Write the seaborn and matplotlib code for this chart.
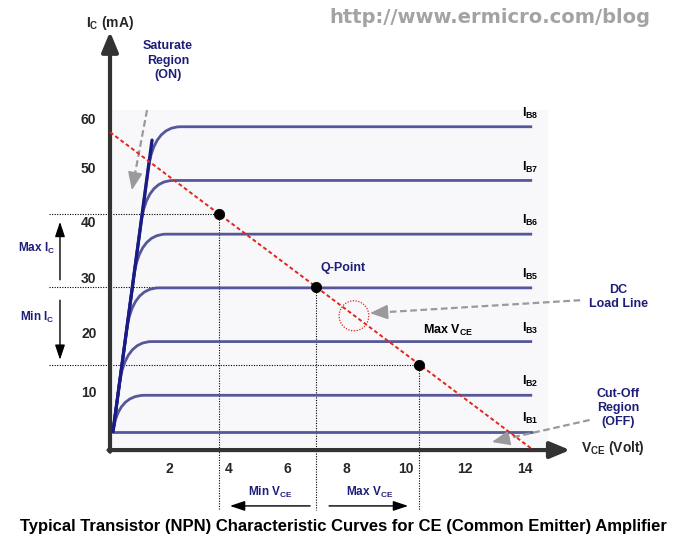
import matplotlib
matplotlib.use("Agg")
import matplotlib.pyplot as plt
import matplotlib.patches as mpatches
from matplotlib.path import Path
import seaborn as sns

sns.set_theme(style="white")
plt.rcParams["font.family"] = ["Liberation Sans", "DejaVu Sans"]
plt.rcParams["mathtext.fontset"] = "custom"
plt.rcParams["mathtext.rm"] = "Liberation Sans"
plt.rcParams["mathtext.default"] = "regular"

# ---- data ----
ib_labels = ["I$_{B8}$", "I$_{B7}$", "I$_{B6}$", "I$_{B5}$", "I$_{B3}$", "I$_{B2}$", "I$_{B1}$"]
ib_levels = [60, 50, 40, 30, 20, 10, 3.2]      # mA, flat part of each curve
vce_end = 14.26                                # where the curves stop
sat_v = [0.1, 1.42]                            # saturation line
sat_i = [3.2, 57.5]
load_v = [0, 14.25]                            # DC load line
load_i = [59, 0]
op_v = [3.68, 6.96, 10.44]                     # operating points on the load line
op_i = [43.7, 30.2, 15.7]
x_ticks = [2, 4, 6, 8, 10, 12, 14]
y_ticks = [10, 20, 30, 40, 50, 60]

NAVY = "#1e1e78"
CURVE = "#55579a"
GREY = "#9a9a9a"

fig = plt.figure(figsize=(6.87, 5.44), dpi=100)
ax = fig.add_axes([0, 0, 1, 1])
ax.set_xlim(-3.716, 19.49)
ax.set_ylim(-17.69, 83.6)
ax.axis("off")

# faint panel behind the curves
ax.add_patch(mpatches.Rectangle((0, 0), 14.8, 63.1, facecolor="#f8f8fa",
                                edgecolor="none", zorder=0))

# characteristic curves: up the saturation line, rounded knee, then flat
slope = (sat_i[1] - sat_i[0]) / (sat_v[1] - sat_v[0])
for lvl in ib_levels:
    if lvl <= sat_i[0] + 0.01:
        sns.lineplot(x=[sat_v[0], vce_end], y=[lvl, lvl], color=CURVE, lw=2.0, ax=ax)
        continue
    y0 = max(lvl - 8, sat_i[0])
    v0 = sat_v[0] + (y0 - sat_i[0]) / slope
    vl = sat_v[0] + (lvl - sat_i[0]) / slope
    verts = [(sat_v[0], sat_i[0]), (v0, y0), (vl, lvl), (vl + 0.9, lvl), (vce_end, lvl)]
    codes = [Path.MOVETO, Path.LINETO, Path.CURVE3, Path.CURVE3, Path.LINETO]
    ax.add_patch(mpatches.PathPatch(Path(verts, codes), facecolor="none",
                                    edgecolor=CURVE, lw=2.0, zorder=2))

sns.lineplot(x=sat_v, y=sat_i, color="#1b1b88", lw=2.4, ax=ax, zorder=3)

for lab, lvl in zip(ib_labels, ib_levels):
    ax.text(13.9, lvl + 2.5, lab, fontsize=9, fontweight="bold", color="black",
            ha="left", va="center")

# axes with arrow heads
axis_kw = dict(arrowstyle="-|>,head_length=1.2,head_width=0.5", lw=3,
               color="#333333", shrinkA=0, shrinkB=0, mutation_scale=10)
ax.annotate("", xy=(0, 77.7), xytext=(0, -0.5), arrowprops=axis_kw, zorder=4)
ax.annotate("", xy=(15.54, -0.2), xytext=(-0.05, -0.2), arrowprops=axis_kw, zorder=4)

ax.text(0, 79.4, "I$_{C}$ (mA)", fontsize=10, fontweight="bold", ha="center", va="center")
ax.text(15.9, 0.2, "V$_{CE}$ (Volt)", fontsize=10, fontweight="bold", ha="left", va="center")

for t in x_ticks:
    ax.text(t, -3.7, str(t), fontsize=10, fontweight="bold", ha="center", va="center")
for t, off in zip(y_ticks, [0.4, 1.4, 1.7, 2.0, 2.1, 1.2]):
    ax.text(-0.72, t + off, str(t), fontsize=10, fontweight="bold", ha="center", va="center")

# guide lines from the operating points
dot = (0, (1, 1.3))
for v, i in zip(op_v, op_i):
    ax.plot([-2.06, v], [i, i], color="black", lw=0.8, linestyle=dot, zorder=1)
    ax.plot([v, v], [i, -11.4], color="black", lw=0.8, linestyle=dot, zorder=1)

# load line and points
sns.lineplot(x=load_v, y=load_i, color="#e3241b", lw=1.4, linestyle=(0, (2, 1.4)),
             ax=ax, zorder=5)
sns.scatterplot(x=op_v, y=op_i, color="black", s=55, edgecolor="black", ax=ax, zorder=6)

ax.add_patch(mpatches.Ellipse((8.24, 24.8), 1.0, 5.6, facecolor="none",
                              edgecolor="#e3241b", lw=0.9, linestyle=(0, (1, 1.2)), zorder=5))


def grey_arrow(start, end, frac):
    back = (end[0] + frac * (start[0] - end[0]), end[1] + frac * (start[1] - end[1]))
    ax.plot([start[0], back[0]], [start[1], back[1]], color=GREY, lw=1.6,
            linestyle=(0, (3, 1.6)), zorder=4)
    ax.annotate("", xy=end, xytext=back, zorder=4,
                arrowprops=dict(arrowstyle="-|>,head_length=1.1,head_width=0.45",
                                color=GREY, lw=1.2, shrinkA=0, shrinkB=0,
                                mutation_scale=10))


def black_arrow(start, end):
    ax.annotate("", xy=end, xytext=start, zorder=4,
                arrowprops=dict(arrowstyle="-|>,head_length=0.9,head_width=0.3",
                                color="black", lw=1.0, shrinkA=0, shrinkB=0,
                                mutation_scale=10))


# annotations
ax.text(1.96, 72.3, "Saturate\nRegion\n(ON)", fontsize=9, fontweight="bold", color=NAVY,
        ha="center", va="center", linespacing=1.25)
grey_arrow((1.25, 63.1), (0.74, 48.2), 0.16)

ax.text(17.16, 28.3, "DC\nLoad Line", fontsize=9, fontweight="bold", color=NAVY,
        ha="center", va="center", linespacing=1.2)
grey_arrow((15.88, 27.7), (8.78, 25.3), 0.06)

ax.text(17.16, 7.6, "Cut-Off\nRegion\n(OFF)", fontsize=9, fontweight="bold", color=NAVY,
        ha="center", va="center", linespacing=1.25)
grey_arrow((16.2, 5.4), (12.9, 1.3), 0.13)

ax.text(7.87, 33.7, "Q-Point", fontsize=9, fontweight="bold", color=NAVY,
        ha="center", va="center")
ax.text(11.42, 22.0, "Max V$_{CE}$", fontsize=9, fontweight="bold", color="black",
        ha="center", va="center")

ax.text(-2.47, 37.4, "Max I$_{C}$", fontsize=8.5, fontweight="bold", color=NAVY,
        ha="center", va="center")
ax.text(-2.47, 24.4, "Min I$_{C}$", fontsize=8.5, fontweight="bold", color=NAVY,
        ha="center", va="center")
black_arrow((-1.69, 31.5), (-1.69, 42.3))
black_arrow((-1.69, 27.7), (-1.69, 16.6))

ax.text(5.4, -8.0, "Min V$_{CE}$", fontsize=8.5, fontweight="bold", color=NAVY,
        ha="center", va="center")
ax.text(8.78, -8.0, "Max V$_{CE}$", fontsize=8.5, fontweight="bold", color=NAVY,
        ha="center", va="center")
black_arrow((6.76, -10.6), (4.05, -10.6))
black_arrow((7.4, -10.6), (10.07, -10.6))

ax.text(7.87, -14.5,
        "Typical Transistor (NPN) Characteristic Curves for CE (Common Emitter) Amplifier",
        fontsize=12, fontweight="bold", color="black", ha="center", va="center")
ax.text(12.84, 80.4, "http://www.ermicro.com/blog", fontsize=14, fontweight="bold",
        family=["DejaVu Sans"], color="#a3a3a3", ha="center", va="center")

fig.savefig("out.png", dpi=100)
